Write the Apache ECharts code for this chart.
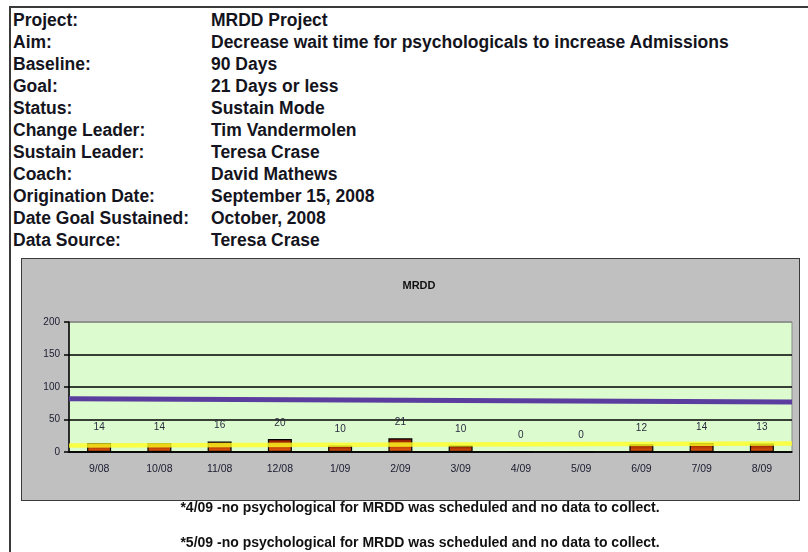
<!DOCTYPE html>
<html>
<head>
<meta charset="utf-8">
<script src="https://cdn.jsdelivr.net/npm/echarts@6/dist/echarts.min.js"></script>
<style>
  html, body { margin: 0; padding: 0; background: #fff; }
  body { width: 808px; height: 552px; position: relative; overflow: hidden;
         font-family: "Liberation Sans", Arial, sans-serif; color: #111; }
  #frame { position: absolute; left: 9px; top: 6px; width: 820px; height: 560px;
           border: 2px solid #3a3a3a; box-sizing: border-box; }
  .row { position: absolute; font-weight: bold; font-size: 17.5px; line-height: 20px; white-space: nowrap; color: #141420; }
  .lbl { left: 13px; }
  .val { left: 211px; }
  #chart { position: absolute; left: 21px; top: 258px; width: 779px; height: 243px;
           background: #c0c0c0; border: 1.5px solid #3a3a3a; box-sizing: border-box; }
  .note { position: absolute; left: 420px; transform: translateX(-50%); font-weight: bold;
          font-size: 14px; line-height: 16px; white-space: nowrap; color: #111; }
</style>
</head>
<body>
<div id="frame"></div>
<div id="info"></div>
<div id="chart"></div>
<div class="note" style="top: 499px;">*4/09 -no psychological for MRDD was scheduled and no data to collect.</div>
<div class="note" style="top: 534px;">*5/09 -no psychological for MRDD was scheduled and no data to collect.</div>
<script>
const infoLabels = ["Project:", "Aim:", "Baseline:", "Goal:", "Status:", "Change Leader:",
  "Sustain Leader:", "Coach:", "Origination Date:", "Date Goal Sustained:", "Data Source:"];
const infoValues = ["MRDD Project", "Decrease wait time for psychologicals to increase Admissions",
  "90 Days", "21 Days or less", "Sustain Mode", "Tim Vandermolen", "Teresa Crase",
  "David Mathews", "September 15, 2008", "October, 2008", "Teresa Crase"];

const months = ["9/08", "10/08", "11/08", "12/08", "1/09", "2/09", "3/09", "4/09", "5/09", "6/09", "7/09", "8/09"];
const waitDays = [14, 14, 16, 20, 10, 21, 10, 0, 0, 12, 14, 13];
// straight reference lines read at the left and right edge of the plot
const purpleLine = [[0, 82], [12, 77]];
const yellowLine = [[0, 10], [12, 13]];

// header table
const info = document.getElementById("info");
infoLabels.forEach((l, i) => {
  const top = 10 + i * 22;
  info.insertAdjacentHTML("beforeend",
    `<div class="row lbl" style="top:${top}px">${l}</div><div class="row val" style="top:${top}px">${infoValues[i]}</div>`);
});

const chart = echarts.init(document.getElementById("chart"));
const option = {
  animation: false,
  title: {
    text: "MRDD",
    left: 392,
    top: 16,
    textAlign: "center",
    textStyle: { fontSize: 11, fontWeight: "bold", color: "#111", fontFamily: "Liberation Sans" },
  },
  grid: {
    left: 47, right: 7, top: 63, bottom: 48,
    show: true, backgroundColor: "#dcfcd0", borderColor: "#8a8a8a", borderWidth: 1,
  },
  xAxis: [
    {
      type: "category",
      data: months,
      axisLine: { lineStyle: { color: "#000", width: 1.5 } },
      axisTick: { lineStyle: { color: "#000", width: 1.5 }, length: 5 },
      axisLabel: { fontSize: 10.5, color: "#1a1a30", margin: 12, fontFamily: "Liberation Sans" },
    },
    { type: "value", min: 0, max: 12, show: false },
  ],
  yAxis: {
    type: "value",
    min: 0, max: 200, interval: 50,
    axisLine: { show: true, lineStyle: { color: "#000", width: 1.5 } },
    axisTick: { show: true, lineStyle: { color: "#000", width: 1.5 }, length: 5 },
    axisLabel: { fontSize: 10, color: "#1a1a30", margin: 9, fontFamily: "Liberation Sans" },
    splitLine: { lineStyle: { color: ["#000", "#000", "#000", "#000", "#8a8a8a"], width: 1.5 } },
  },
  series: [
    {
      type: "bar",
      data: waitDays,
      barWidth: 24,
      itemStyle: {
        color: new echarts.graphic.LinearGradient(0, 0, 0, 1, [
          { offset: 0, color: "#8a1600" },
          { offset: 1, color: "#e8620e" },
        ]),
        borderColor: "#000",
        borderWidth: 1.2,
      },
      label: { show: true, position: "top", distance: 11, fontSize: 10, color: "#2a2a40" },
      z: 2,
    },
    {
      type: "line",
      xAxisIndex: 1,
      data: purpleLine,
      symbol: "none",
      lineStyle: { color: "#5b3c9f", width: 5 },
      z: 3,
    },
    {
      type: "line",
      xAxisIndex: 1,
      data: yellowLine,
      symbol: "none",
      lineStyle: { color: "#ffff20", width: 4.5, opacity: 0.8 },
      z: 4,
    },
  ],
};
chart.setOption(option);
</script>
</body>
</html>
